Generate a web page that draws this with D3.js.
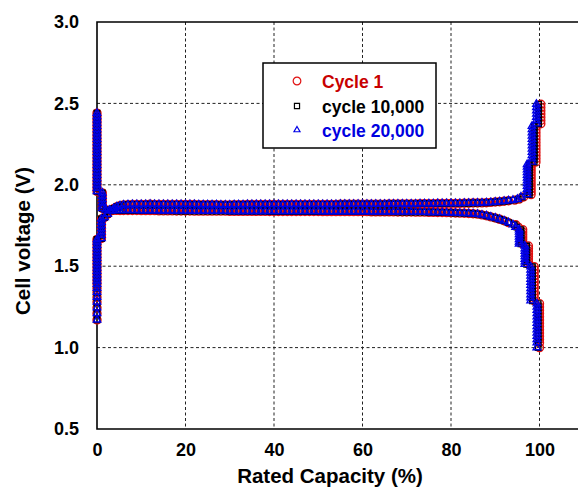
<!DOCTYPE html>
<html>
<head>
<meta charset="utf-8">
<title>Cell voltage vs rated capacity</title>
<script src="https://cdn.jsdelivr.net/npm/d3@7"></script>
<style>
  body { margin: 0; background: #fff; }
  svg text { font-family: "Liberation Sans", Arial, sans-serif; font-weight: bold; }
</style>
</head>
<body>
<svg width="578" height="488"></svg>
<script>
// ticks
var xTicks = [0, 20, 40, 60, 80, 100];
var yTicks = [0.5, 1.0, 1.5, 2.0, 2.5, 3.0];
var seriesNames = ["Cycle 1", "cycle 10,000", "cycle 20,000"];

// start of the charge branch [capacity %, voltage V], same for all cycles
var chargeHead = [[0,1.17],[0,1.21],[0,1.245],[0,1.28],[0,1.31],[0,1.34],[0,1.365],[0,1.39],
  [0,1.41],[0,1.43],[0,1.45],[0,1.47],[0,1.49],[0,1.51],[0,1.53],[0,1.55],[0,1.57],[0,1.59],
  [0,1.61],[0,1.63],[0,1.65],[0,1.665],[1.0,1.67],[1.0,1.69],[1.0,1.71],[1.0,1.73],[1.0,1.75],
  [1.0,1.77],[1.0,1.79],[1.7,1.80],[2.4,1.82],[3.1,1.84],[3.8,1.855],[4.5,1.865],[5.2,1.872]];

// start of the discharge branch
var dischargeHead = [[0,2.44],[0,2.42],[0,2.40],[0,2.38],[0,2.36],[0,2.34],[0,2.32],[0,2.30],
  [0,2.28],[0,2.26],[0,2.24],[0,2.22],[0,2.20],[0,2.18],[0,2.16],[0,2.14],[0,2.12],[0,2.10],
  [0,2.08],[0,2.06],[0,2.04],[0,2.02],[0,2.00],[0,1.98],[0,1.96],[1.2,1.95],[1.2,1.93],
  [1.2,1.91],[1.2,1.89],[1.2,1.87],[1.2,1.855],[2.0,1.846],[2.8,1.844],[3.6,1.843],
  [4.4,1.843],[5.2,1.842]];

// plateau, shared capacity grid
var plateauCap = [6,7,8,9,10,11,12,13,14,15,16,17,18,19,20,21,22,23,24,25,26,27,28,29,30,
  31,32,33,34,35,36,37,38,39,40,41,42,43,44,45,46,47,48,49,50,51,52,53,54,55,56,57,58,59,60,
  61,62,63,64,65,66,67,68,69,70,71,72,73,74,75,76,77,78,79,80,81,82,83,84,85,86,87,88,89,90,
  91,92,93];
var chargePlateauV = [
  1.876,1.878,1.879,1.880,1.880,1.880,1.881,1.880,1.880,1.880,
  1.879,1.879,1.880,1.880,1.879,1.879,1.879,1.878,1.878,1.878,
  1.878,1.878,1.877,1.877,1.877,1.878,1.878,1.878,1.879,1.879,
  1.879,1.879,1.879,1.879,1.879,1.879,1.879,1.880,1.880,1.880,
  1.880,1.880,1.880,1.880,1.880,1.880,1.880,1.880,1.880,1.881,
  1.881,1.881,1.881,1.881,1.881,1.881,1.881,1.881,1.881,1.881,
  1.882,1.882,1.882,1.883,1.883,1.883,1.883,1.884,1.884,1.884,
  1.884,1.885,1.885,1.885,1.886,1.886,1.886,1.887,1.887,1.888,
  1.888,1.889,1.890,1.892,1.894,1.896,1.899,1.902];
var dischargePlateauV = [
  1.842,1.842,1.842,1.842,1.841,1.841,1.841,1.841,1.840,1.840,
  1.840,1.840,1.839,1.839,1.839,1.839,1.838,1.838,1.838,1.838,
  1.838,1.838,1.838,1.838,1.837,1.837,1.837,1.837,1.837,1.837,
  1.837,1.837,1.837,1.836,1.836,1.836,1.836,1.836,1.836,1.836,
  1.836,1.836,1.836,1.836,1.836,1.835,1.835,1.835,1.835,1.835,
  1.835,1.835,1.835,1.835,1.835,1.835,1.834,1.834,1.834,1.834,
  1.834,1.834,1.833,1.833,1.833,1.833,1.832,1.832,1.832,1.831,
  1.831,1.830,1.830,1.829,1.828,1.827,1.826,1.825,1.824,1.822,
  1.820,1.815,1.810,1.803,1.796,1.788,1.779,1.768];

// end of charge: voltages, and capacity reached by each cycle
var chargeTailV = [1.906,1.912,1.925,
  1.94,1.957,1.974,1.991,2.008,2.025,2.042,2.059,2.076,2.093,2.11,2.125,
  2.14,2.16,2.18,2.20,2.22,2.24,2.26,2.28,2.30,2.32,2.34,2.36,
  2.375,2.395,2.415,2.435,2.455,2.475,2.495];
var chargeTailCap1 = [94.4,95.4,96.4,
  98.1,98.1,98.1,98.1,98.1,98.1,98.1,98.1,98.1,98.1,98.1,98.1,
  99.2,99.2,99.2,99.2,99.2,99.2,99.2,99.2,99.2,99.2,99.2,99.2,
  100.3,100.3,100.3,100.3,100.3,100.3,100.3];
var chargeTailCap10k = [94.2,95.2,96.1,
  97.7,97.7,97.7,97.7,97.7,97.7,97.7,97.7,97.7,97.7,97.7,97.7,
  98.8,98.8,98.8,98.8,98.8,98.8,98.8,98.8,98.8,98.8,98.8,98.8,
  99.8,99.8,99.8,99.8,99.8,99.8,99.8];
var chargeTailCap20k = [94.0,95.0,95.8,
  97.2,97.2,97.2,97.2,97.2,97.2,97.2,97.2,97.2,97.2,97.2,97.2,
  98.3,98.3,98.3,98.3,98.3,98.3,98.3,98.3,98.3,98.3,98.3,98.3,
  99.3,99.3,99.3,99.3,99.3,99.3,99.3];

// end of discharge
var dischargeTailV = [1.755,1.74,
  1.725,1.71,1.695,1.68,1.665,1.65,1.637,
  1.624,1.608,1.592,1.576,1.56,1.544,1.528,1.512,
  1.497,1.478,1.459,1.44,1.421,1.402,1.383,1.364,1.345,1.326,1.307,1.288,
  1.27,1.25,1.23,1.21,1.19,1.17,1.15,1.13,1.11,1.09,1.07,1.05,1.03,1.00];
var dischargeTailCap1 = [94.6,95.2,
  96.2,96.2,96.2,96.2,96.2,96.2,96.2,
  97.5,97.5,97.5,97.5,97.5,97.5,97.5,97.5,
  98.8,98.8,98.8,98.8,98.8,98.8,98.8,98.8,98.8,98.8,98.8,98.8,
  100.0,100.0,100.0,100.0,100.0,100.0,100.0,100.0,100.0,100.0,100.0,100.0,100.0,100.0];
var dischargeTailCap10k = [94.3,94.9,
  95.8,95.8,95.8,95.8,95.8,95.8,95.8,
  97.1,97.1,97.1,97.1,97.1,97.1,97.1,97.1,
  98.4,98.4,98.4,98.4,98.4,98.4,98.4,98.4,98.4,98.4,98.4,98.4,
  99.7,99.7,99.7,99.7,99.7,99.7,99.7,99.7,99.7,99.7,99.7,99.7,99.7,99.7];
var dischargeTailCap20k = [94.0,94.6,
  95.4,95.4,95.4,95.4,95.4,95.4,95.4,
  96.7,96.7,96.7,96.7,96.7,96.7,96.7,96.7,
  98.0,98.0,98.0,98.0,98.0,98.0,98.0,98.0,98.0,98.0,98.0,98.0,
  99.4,99.4,99.4,99.4,99.4,99.4,99.4,99.4,99.4,99.4,99.4,99.4,99.4,99.4];

var svg = d3.select("svg");
var plotLeft = 97, plotTop = 22, plotBottom = 429, plotRight = 578;

var x = d3.scaleLinear().domain([0, 110]).range([plotLeft, plotLeft + 110 * 4.425]);
var y = d3.scaleLinear().domain([0.5, 3.0]).range([plotBottom, plotTop]);

function branch(head, plateauV, tailCap, tailV) {
  var pts = head.slice();
  plateauCap.forEach(function (c, i) { pts.push([c, plateauV[i]]); });
  tailCap.forEach(function (c, i) { pts.push([c, tailV[i]]); });
  return pts;
}

var series = [
  { name: seriesNames[0], color: "#e01010", text: "#c80000", shape: d3.symbolCircle, size: 50, lsize: 46,
    pts: branch(chargeHead, chargePlateauV, chargeTailCap1, chargeTailV)
      .concat(branch(dischargeHead, dischargePlateauV, dischargeTailCap1, dischargeTailV)) },
  { name: seriesNames[1], color: "#000000", text: "#000000", shape: d3.symbolSquare, size: 30, lsize: 26,
    pts: branch(chargeHead, chargePlateauV, chargeTailCap10k, chargeTailV)
      .concat(branch(dischargeHead, dischargePlateauV, dischargeTailCap10k, dischargeTailV)) },
  { name: seriesNames[2], color: "#0000e6", text: "#0000e0", shape: d3.symbolTriangle, size: 24, lsize: 16,
    pts: branch(chargeHead, chargePlateauV, chargeTailCap20k, chargeTailV)
      .concat(branch(dischargeHead, dischargePlateauV, dischargeTailCap20k, dischargeTailV)) }
];

// grid
svg.append("g").selectAll("line").data(xTicks.slice(1)).enter().append("line")
  .attr("x1", d => x(d)).attr("x2", d => x(d)).attr("y1", plotTop).attr("y2", plotBottom)
  .attr("stroke", "#222").attr("stroke-width", 1).attr("stroke-dasharray", "3,2.5");
svg.append("g").selectAll("line").data(yTicks.slice(1, -1)).enter().append("line")
  .attr("x1", plotLeft).attr("x2", plotRight).attr("y1", d => y(d)).attr("y2", d => y(d))
  .attr("stroke", "#222").attr("stroke-width", 1).attr("stroke-dasharray", "3,2.5");

// frame
svg.append("path").attr("d", "M" + plotRight + "," + plotTop + "H" + plotLeft + "V" + plotBottom + "H" + plotRight)
  .attr("fill", "none").attr("stroke", "#000").attr("stroke-width", 1.6);

// axes labels
var xAxis = svg.append("g").attr("transform", "translate(0," + plotBottom + ")")
  .call(d3.axisBottom(x).tickValues(xTicks).tickSize(0).tickPadding(14));
var yAxis = svg.append("g").attr("transform", "translate(" + plotLeft + ",0)")
  .call(d3.axisLeft(y).tickValues(yTicks).tickSize(0).tickPadding(18).tickFormat(d3.format(".1f")));
[xAxis, yAxis].forEach(function (a) {
  a.select(".domain").remove();
  a.selectAll("text").attr("font-size", 18).attr("fill", "#000")
    .style("font-family", '"Liberation Sans", Arial, sans-serif').style("font-weight", "bold");
});

// markers
series.forEach(function (s) {
  var sym = d3.symbol().type(s.shape).size(s.size);
  svg.append("g").selectAll("path").data(s.pts).enter().append("path")
    .attr("d", sym)
    .attr("transform", d => "translate(" + x(d[0]) + "," + y(d[1]) + ")")
    .attr("fill", "none").attr("stroke", s.color).attr("stroke-width", 1.4);
});

// axis titles
svg.append("text").attr("x", 330).attr("y", 483).attr("text-anchor", "middle")
  .attr("font-size", 20.5).text("Rated Capacity (%)");
svg.append("text").attr("transform", "translate(30,241) rotate(-90)").attr("text-anchor", "middle")
  .attr("font-size", 20.5).text("Cell voltage (V)");

// legend
var lg = svg.append("g");
lg.append("rect").attr("x", 263).attr("y", 63).attr("width", 173).attr("height", 85)
  .attr("fill", "#fff").attr("stroke", "#000").attr("stroke-width", 1.5);
var legendY = [81, 106, 130];
series.forEach(function (s, i) {
  lg.append("path").attr("d", d3.symbol().type(s.shape).size(s.lsize))
    .attr("transform", "translate(297," + legendY[i] + ")")
    .attr("fill", "none").attr("stroke", s.color).attr("stroke-width", 1.2);
  lg.append("text").attr("x", 322).attr("y", legendY[i] + 6.5).attr("font-size", 17.5)
    .attr("fill", s.text).text(s.name);
});
</script>
</body>
</html>
